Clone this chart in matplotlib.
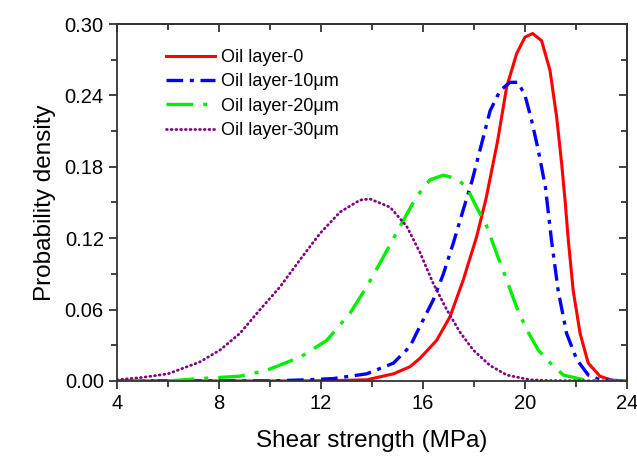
import numpy as np
import matplotlib
matplotlib.use('Agg')
import matplotlib.pyplot as plt

plt.rcParams['font.family'] = ['Liberation Sans', 'DejaVu Sans']

# values
x_red = [4, 11, 12.5, 13.8, 14.84, 15.49, 15.88, 16.53, 17.06, 17.58, 18.1, 18.47,
         18.92, 19.28, 19.67, 20.0, 20.3, 20.65, 20.98, 21.24, 21.44, 21.57, 21.7,
         21.89, 22.16, 22.48, 22.94, 23.45, 24]
y_red = [0, 0, 0.0003, 0.001, 0.006, 0.012, 0.019, 0.034, 0.054, 0.085, 0.121, 0.153,
         0.201, 0.247, 0.275, 0.289, 0.292, 0.286, 0.261, 0.222, 0.182, 0.152, 0.118,
         0.076, 0.040, 0.015, 0.004, 0.0003, 0]

x_blue = [4, 10, 11.5, 12.48, 13.79, 14.84, 15.49, 15.88, 16.4, 16.8, 17.19, 17.58,
          17.92, 18.27, 18.63, 19.02, 19.41, 19.73, 20.0, 20.26, 20.52, 20.8, 21.04,
          21.3, 21.63, 22.03, 22.48, 22.94, 24]
y_blue = [0, 0, 0.001, 0.002, 0.006, 0.015, 0.029, 0.046, 0.068, 0.090, 0.116, 0.144,
          0.168, 0.197, 0.227, 0.244, 0.251, 0.251, 0.240, 0.219, 0.194, 0.163, 0.118,
          0.076, 0.040, 0.018, 0.005, 0.001, 0]

x_green = [4, 6, 7.25, 8.82, 9.87, 11.18, 12.22, 13.14, 13.79, 14.44, 15.1, 15.75,
           16.27, 16.8, 17.32, 17.71, 18.1, 18.5, 18.89, 19.28, 19.67, 20.07, 20.52,
           20.85, 21.5, 22.3, 23, 24]
y_green = [0, 0, 0.002, 0.004, 0.009, 0.020, 0.034, 0.057, 0.079, 0.104, 0.130, 0.155,
           0.169, 0.173, 0.170, 0.163, 0.146, 0.130, 0.107, 0.085, 0.062, 0.043, 0.026,
           0.018, 0.005, 0.001, 0, 0]

x_purple = [4, 5, 6, 7.25, 8.04, 8.82, 9.61, 10.39, 11.18, 11.96, 12.75, 13.53, 13.92,
            14.71, 15.36, 15.88, 16.4, 16.93, 17.45, 17.97, 18.63, 19.28, 20.2, 21, 24]
y_purple = [0.001, 0.003, 0.006, 0.016, 0.026, 0.040, 0.060, 0.079, 0.102, 0.124,
            0.142, 0.152, 0.153, 0.146, 0.130, 0.108, 0.082, 0.060, 0.041, 0.026, 0.013,
            0.005, 0.001, 0.0003, 0]

labels = ['Oil layer-0', 'Oil layer-10μm', 'Oil layer-20μm', 'Oil layer-30μm']

fig = plt.figure(figsize=(6.37, 4.59), dpi=100)
ax = fig.add_axes([0.1837, 0.170, 0.8006, 0.7777])

ax.plot(x_red, y_red, color='#ff0000', linewidth=2.2, label=labels[0])
ax.plot(x_blue, y_blue, color='#0000ff', linewidth=2.4, dashes=(5, 2, 1.2, 2),
        label=labels[1])
ax.plot(x_green, y_green, color='#00ee00', linewidth=2.4, dashes=(8, 3, 1.2, 3),
        label=labels[2])
ax.plot(x_purple, y_purple, color='#800080', linewidth=2.0, dashes=(0.3, 1.4),
        dash_capstyle='round', label=labels[3])

ax.set_xlim(4, 24)
ax.set_ylim(0, 0.30)
ax.set_xticks(np.arange(4, 25, 4))
ax.set_xticks(np.arange(6, 24, 4), minor=True)
ax.set_yticks(np.arange(0, 0.31, 0.06))
ax.set_yticks(np.arange(0.03, 0.30, 0.06), minor=True)
ax.set_yticklabels(['{:.2f}'.format(v) for v in np.arange(0, 0.31, 0.06)])

ax.tick_params(axis='both', which='major', direction='out', length=6, width=1.3,
               labelsize=14.5, color='#333333')
ax.tick_params(axis='both', which='minor', direction='out', length=4, width=1.3,
               color='#333333')

# inward ticks on top and right
top = ax.secondary_xaxis('top')
top.set_xticks(np.arange(4, 25, 4))
top.set_xticks(np.arange(6, 24, 4), minor=True)
top.tick_params(which='major', direction='in', length=6, width=1.3, labeltop=False,
                color='#333333')
top.tick_params(which='minor', direction='in', length=4, width=1.3, color='#333333')
right = ax.secondary_yaxis('right')
right.set_yticks(np.arange(0, 0.31, 0.06))
right.set_yticks(np.arange(0.03, 0.30, 0.06), minor=True)
right.tick_params(which='major', direction='in', length=6, width=1.3, labelright=False,
                  color='#333333')
right.tick_params(which='minor', direction='in', length=4, width=1.3, color='#333333')

for a in (ax, top, right):
    for s in a.spines.values():
        s.set_linewidth(1.3)
        s.set_color('#333333')

ax.set_xlabel('Shear strength (MPa)', fontsize=17.5, labelpad=12)
ax.set_ylabel('Probability density', fontsize=17.5, labelpad=6)

ax.legend(loc='upper left', bbox_to_anchor=(0.065, 0.975), frameon=False, fontsize=13,
          handlelength=2.7, handletextpad=0.3, labelspacing=0.4)

plt.savefig('out.png', dpi=100)
